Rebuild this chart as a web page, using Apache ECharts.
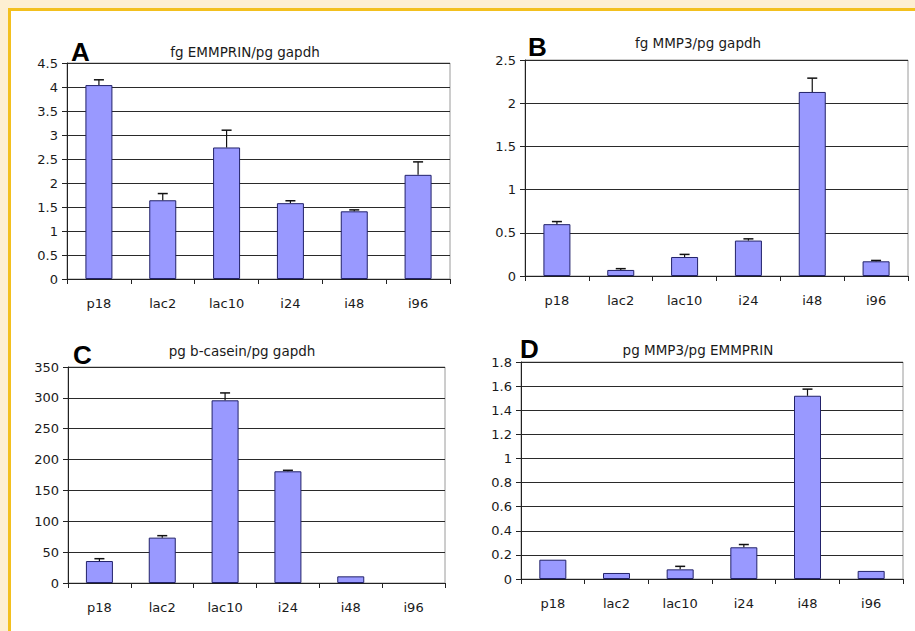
<!DOCTYPE html>
<html>
<head>
<meta charset="utf-8">
<script src="https://cdn.jsdelivr.net/npm/echarts@6/dist/echarts.min.js"></script>
<style>
html,body{margin:0;padding:0;background:#fff;}
#c{width:915px;height:631px;}
</style>
</head>
<body>
<div id="c"></div>
<script>
// ---- data ----
const categories = ['p18', 'lac2', 'lac10', 'i24', 'i48', 'i96'];

const titleA = 'fg EMMPRIN/pg gapdh';
const valuesA = [4.04, 1.64, 2.74, 1.58, 1.41, 2.17];
const errorsA = [0.11, 0.14, 0.36, 0.05, 0.03, 0.27];
const ticksA = {min: 0, max: 4.5, interval: 0.5};

const titleB = 'fg MMP3/pg gapdh';
const valuesB = [0.60, 0.07, 0.22, 0.41, 2.13, 0.17];
const errorsB = [0.03, 0.015, 0.03, 0.02, 0.16, 0.01];
const ticksB = {min: 0, max: 2.5, interval: 0.5};

const titleC = 'pg b-casein/pg gapdh';
const valuesC = [35.6, 73.5, 296, 181, 10.8, 0];
const errorsC = [3.8, 3.2, 12, 1.6, 0, 0];
const ticksC = {min: 0, max: 350, interval: 50};

const titleD = 'pg MMP3/pg EMMPRIN';
const valuesD = [0.16, 0.05, 0.08, 0.263, 1.52, 0.067];
const errorsD = [0, 0, 0.025, 0.023, 0.055, 0];
const ticksD = {min: 0, max: 1.8, interval: 0.2};

const panelLetters = ['A', 'B', 'C', 'D'];

// ---- layout ----
const panels = [
  {title: titleA, values: valuesA, errors: errorsA, ticks: ticksA, grid: {left: 67, top: 63, width: 383, height: 216}, letter: {left: 66, top: 34}, tpos: {x: 240, y: 40}},
  {title: titleB, values: valuesB, errors: errorsB, ticks: ticksB, grid: {left: 525, top: 60, width: 383, height: 216}, letter: {left: 523, top: 29}, tpos: {x: 693, y: 31}},
  {title: titleC, values: valuesC, errors: errorsC, ticks: ticksC, grid: {left: 68, top: 367, width: 377, height: 216}, letter: {left: 68, top: 337}, tpos: {x: 237, y: 339}},
  {title: titleD, values: valuesD, errors: errorsD, ticks: ticksD, grid: {left: 521, top: 362, width: 382, height: 217}, letter: {left: 515, top: 331}, tpos: {x: 693, y: 338}}
];

const FONT = 'DejaVu Sans';
const chart = echarts.init(document.getElementById('c'), null, {renderer: 'svg'});

const grids = [], xAxes = [], yAxes = [], series = [], titles = [];
panels.forEach((p, i) => {
  grids.push(Object.assign({show: true, borderColor: '#9a9a9a', borderWidth: 1, backgroundColor: '#fff'}, p.grid));
  xAxes.push({
    type: 'category', gridIndex: i, data: categories,
    axisLine: {lineStyle: {color: '#222', width: 1}},
    axisTick: {show: true, length: 5, lineStyle: {color: '#222'}},
    axisLabel: {color: '#1a1a1a', fontSize: 13, fontFamily: FONT, margin: 18}
  });
  yAxes.push({
    type: 'value', gridIndex: i, min: p.ticks.min, max: p.ticks.max, interval: p.ticks.interval,
    axisLine: {show: true, lineStyle: {color: '#222', width: 1}},
    axisTick: {show: true, length: 5, lineStyle: {color: '#222'}},
    axisLabel: {color: '#1a1a1a', fontSize: 13, fontFamily: FONT, margin: 9},
    splitLine: {show: true, lineStyle: {color: '#2a2a2a', width: 1}}
  });
  series.push({
    type: 'bar', xAxisIndex: i, yAxisIndex: i,
    data: p.values.map(v => (v === 0 ? '-' : v)), barWidth: 27,
    itemStyle: {color: '#9999ff', borderColor: '#22226a', borderWidth: 1},
    silent: true, animation: false
  });
  const errData = p.values.map((v, k) => [k, v, v + p.errors[k]]);
  series.push({
    type: 'custom', xAxisIndex: i, yAxisIndex: i, data: errData, silent: true, animation: false,
    z: 5,
    renderItem: function (params, api) {
      const x = api.value(0), lo = api.value(1), hi = api.value(2);
      if (hi - lo <= 0) return null;
      const a = api.coord([x, lo]);
      const b = api.coord([x, hi]);
      const cap = 5;
      return {
        type: 'group',
        children: [
          {type: 'line', shape: {x1: a[0], y1: a[1], x2: b[0], y2: b[1]}, style: {stroke: '#111', lineWidth: 1.2}},
          {type: 'line', shape: {x1: b[0] - cap, y1: b[1], x2: b[0] + cap, y2: b[1]}, style: {stroke: '#111', lineWidth: 1.5}}
        ]
      };
    }
  });
  titles.push({
    text: p.title, left: p.tpos.x, top: p.tpos.y, textAlign: 'center',
    textStyle: {fontSize: 13.5, fontWeight: 'normal', color: '#1a1a1a', fontFamily: FONT}
  });
  titles.push({
    text: panelLetters[i], left: p.letter.left, top: p.letter.top,
    textStyle: {fontSize: 26, fontWeight: 'bold', color: '#000', fontFamily: 'Liberation Sans'}
  });
});

chart.setOption({
  animation: false,
  backgroundColor: '#fff',
  title: titles,
  grid: grids,
  xAxis: xAxes,
  yAxis: yAxes,
  series: series,
  graphic: [
    {type: 'rect', shape: {x: 0, y: 0, width: 915, height: 8}, style: {fill: '#fdefd2'}, silent: true},
    {type: 'rect', shape: {x: 0, y: 0, width: 8, height: 631}, style: {fill: '#fdefd2'}, silent: true},
    {type: 'rect', shape: {x: 8, y: 8, width: 907, height: 3}, style: {fill: '#f3c01e'}, silent: true},
    {type: 'rect', shape: {x: 8, y: 8, width: 3, height: 623}, style: {fill: '#f3c01e'}, silent: true}
  ]
});
</script>
</body>
</html>
